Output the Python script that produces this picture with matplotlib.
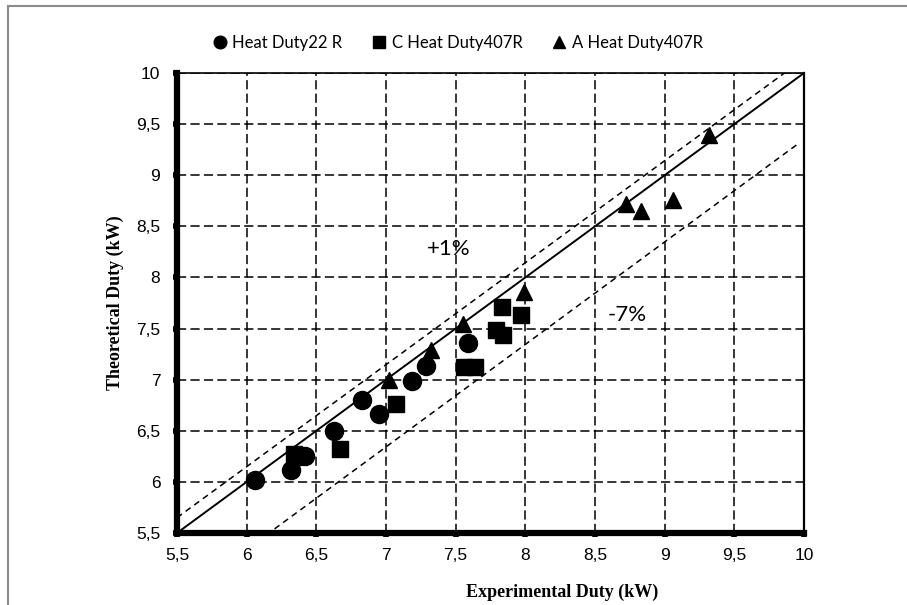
import matplotlib
matplotlib.use("Agg")
import matplotlib.pyplot as plt
from matplotlib.patches import Rectangle
from matplotlib.ticker import FuncFormatter, MultipleLocator

# ==========================================
# DATA
# ==========================================

r22_exp  = [6.06, 6.32, 6.42, 6.38, 6.63, 6.83, 6.95, 7.19, 7.29, 7.59]
r22_theo = [6.02, 6.12, 6.25, 6.25, 6.50, 6.80, 6.66, 6.99, 7.13, 7.36]

c407_exp  = [6.34, 6.67, 7.07, 7.56, 7.64, 7.79, 7.84, 7.83, 7.97]
c407_theo = [6.27, 6.32, 6.76, 7.12, 7.12, 7.49, 7.44, 7.71, 7.63]

a407_exp  = [7.02, 7.32, 7.55, 7.99, 8.72, 8.83, 9.06, 9.32]
a407_theo = [7.00, 7.29, 7.54, 7.86, 8.72, 8.65, 8.76, 9.39]

ideal_x = [5.5, 10.0]
ideal_y = [5.5, 10.0]
upper_x = [5.5, 9.86]
upper_y = [5.65, 10.0]
lower_x = [6.2, 9.96]
lower_y = [5.54, 9.31]

LABEL_R22  = "Heat Duty22 R"
LABEL_C407 = "C Heat Duty407R"
LABEL_A407 = "A Heat Duty407R"

# ==========================================
# PLOT
# ==========================================

fig = plt.figure(figsize=(9.07, 6.05), dpi=100)
ax = fig.add_axes([177 / 907, 1 - 533 / 605, 627 / 907, 460 / 605])

# outer chart-area frame (cropped at right and bottom)
fig.patches.append(Rectangle((8 / 907, -0.1), 1.2, 1.1 - 6 / 605,
                             transform=fig.transFigure, fill=False,
                             edgecolor="#8c8c8c", linewidth=1.5))

ax.grid(True, color="black", linestyle=(0, (6, 2.8)), linewidth=1.1)
ax.set_axisbelow(True)

ax.plot(ideal_x, ideal_y, color="black", linewidth=1.4)
ax.plot(upper_x, upper_y, color="black", linewidth=1.1, linestyle=(0, (4, 3)))
ax.plot(lower_x, lower_y, color="black", linewidth=1.1, linestyle=(0, (4, 3)))

ax.plot(r22_exp, r22_theo, "o", color="black", markersize=13, label=LABEL_R22)
ax.plot(c407_exp, c407_theo, "s", color="black", markersize=12, label=LABEL_C407)
ax.plot(a407_exp, a407_theo, "^", color="black", markersize=12, label=LABEL_A407)

ax.text(7.45, 8.28, "+1%", fontsize=16, family="Lato", ha="center", va="center")
ax.text(8.73, 7.63, "-7%", fontsize=16, family="Lato", ha="center", va="center")

ax.set_xlim(5.5, 10)
ax.set_ylim(5.5, 10)
ax.xaxis.set_major_locator(MultipleLocator(0.5))
ax.yaxis.set_major_locator(MultipleLocator(0.5))

fmt = FuncFormatter(lambda v, p: f"{v:g}".replace(".", ","))
ax.xaxis.set_major_formatter(fmt)
ax.yaxis.set_major_formatter(fmt)

for lab in ax.get_xticklabels() + ax.get_yticklabels():
    lab.set_family("Liberation Sans")
    lab.set_fontsize(12.5)

ax.tick_params(axis="both", direction="out", length=3, width=4, color="black")
ax.tick_params(axis="x", pad=8)
ax.tick_params(axis="y", pad=9)

ax.spines["left"].set_linewidth(4.5)
ax.spines["bottom"].set_linewidth(4.5)
ax.spines["top"].set_linewidth(1.2)
ax.spines["right"].set_linewidth(1.6)

ax.set_xlabel("Experimental Duty (kW)", family="Liberation Serif",
              fontweight="bold", fontsize=13, va="center")
ax.set_ylabel("Theoretical Duty (kW)", family="Liberation Serif",
              fontweight="bold", fontsize=13, va="center")
ax.xaxis.set_label_coords((562 - 177) / 627, (533 - 592) / 460)
ax.yaxis.set_label_coords((115 - 177) / 627, 0.5)

leg = fig.legend(loc="center", bbox_to_anchor=(458 / 907, 1 - 43 / 605),
                 ncol=3, frameon=False, markerscale=0.7, handletextpad=0.35,
                 columnspacing=1.8, handlelength=0.8,
                 prop={"family": "Lato", "size": 12})

fig.savefig("out.png", dpi=100)
